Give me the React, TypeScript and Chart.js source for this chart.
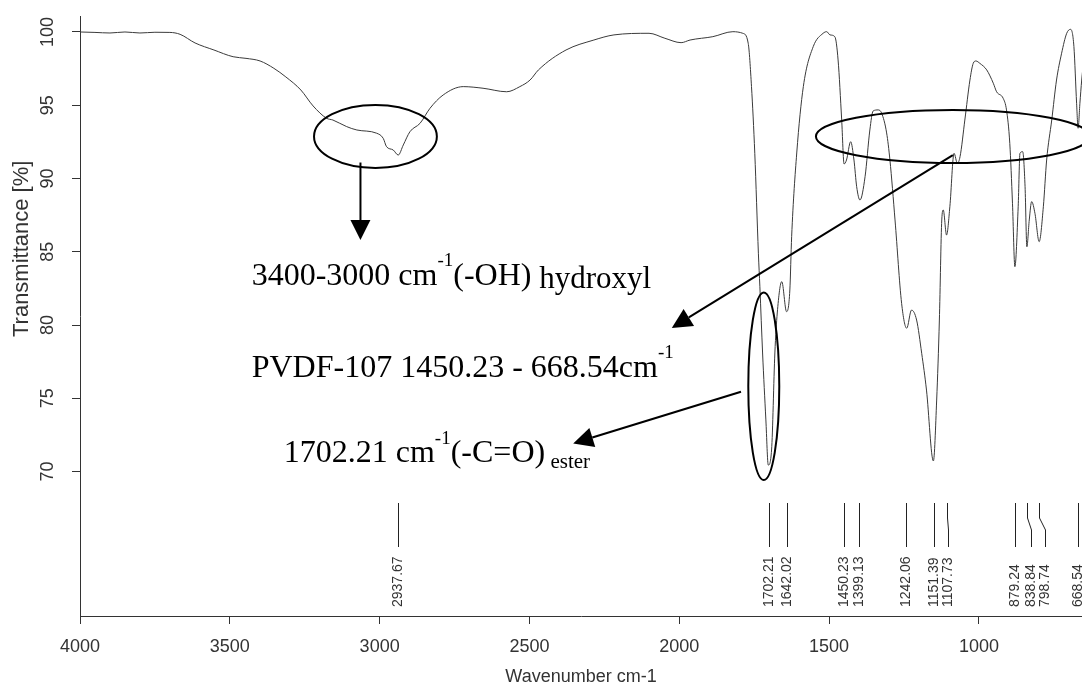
import React, { useEffect, useRef } from "react";
import { Chart, registerables } from "chart.js";

Chart.register(...registerables);

// Spectrum: wavenumber (cm-1) and transmittance (%)
const wavenumbers = [
  4000, 3950, 3900, 3850, 3800, 3750, 3700, 3666, 3616, 3553, 3489, 3446, 3399, 3353, 3313,
  3263, 3222, 3177, 3156, 3110, 3076, 3010, 2988, 2977, 2955, 2938, 2921, 2899, 2865, 2832,
  2788, 2721, 2655, 2576, 2532, 2498, 2470, 2378, 2285, 2218, 2101, 2048, 1994, 1964, 1888,
  1821, 1788, 1770, 1759, 1748, 1736, 1731, 1722, 1711, 1703, 1692, 1681, 1673, 1658, 1642,
  1631, 1625, 1608, 1586, 1553, 1520, 1508, 1497, 1481, 1470, 1458, 1450, 1442, 1428, 1417,
  1408, 1397, 1380, 1364, 1353, 1336, 1325, 1308, 1297, 1280, 1258, 1241, 1225, 1208, 1191,
  1175, 1152, 1141, 1132, 1124, 1119, 1108, 1097, 1083, 1072, 1063, 1047, 1030, 1019, 1010,
  997, 974, 952, 941, 919, 908, 897, 888, 880, 869, 863, 854, 846, 840, 832,
  824, 813, 799, 785, 774, 757, 741, 724, 707, 694, 683, 674, 669, 663, 657, 650,
];
const transmittance = [
  100.0, 99.97, 99.93, 100.0, 99.93, 99.98, 99.97, 99.84, 99.25, 98.77, 98.31, 98.2, 98.02, 97.52, 96.93,
  96.04, 94.95, 94.11, 93.99, 93.54, 93.31, 93.09, 92.74, 92.17, 91.95, 91.6, 92.29, 93.19, 93.77, 94.79,
  95.7, 96.27, 96.16, 95.92, 96.27, 96.72, 97.41, 98.77, 99.45, 99.8, 99.91, 99.57, 99.27, 99.45, 99.68,
  100.02, 99.91, 99.23, 96.27, 91.72, 84.9, 82.61, 78.09, 73.52, 70.44, 71.47, 78.09, 80.82, 82.96, 80.91,
  82.39, 86.03, 91.74, 96.27, 99.0, 99.91, 100.02, 99.8, 99.68, 98.09, 93.99, 90.99, 91.26, 92.51, 91.26,
  89.44, 88.53, 90.12, 93.31, 94.61, 94.68, 94.47, 93.11, 91.26, 87.17, 81.48, 79.78, 81.02, 80.34, 78.07,
  75.56, 70.72, 74.88, 80.34, 87.17, 87.85, 86.14, 88.07, 91.72, 91.04, 91.49, 93.99, 96.72, 97.86, 98.02,
  97.86, 97.41, 96.5, 95.92, 95.47, 94.68, 92.4, 88.31, 83.98, 88.07, 91.72, 91.83, 89.44, 85.34, 87.17,
  88.42, 87.62, 85.69, 88.07, 91.26, 93.99, 96.72, 98.55, 99.91, 100.18, 99.0, 95.13, 93.43, 95.13, 96.72, 98.1,
];

const xTicks = [4000, 3500, 3000, 2500, 2000, 1500, 1000];
const yTicks = [70, 75, 80, 85, 90, 95, 100];

const peakPositions = [2937.67, 1702.21, 1642.02, 1450.23, 1399.13, 1242.06, 1151.39, 1107.73, 879.24, 838.84, 798.74, 668.54];
const peakLabels = ["2937.67", "1702.21", "1642.02", "1450.23", "1399.13", "1242.06", "1151.39", "1107.73", "879.24", "838.84", "798.74", "668.54"];
const peakLabelPositions = [2937.67, 1702.21, 1642.02, 1450.23, 1399.13, 1242.06, 1151.39, 1102.5, 879.24, 827.6, 780.5, 668.54];

const X_MIN = 656;
const X_MAX = 4000;
const Y_MIN = 60.14;
const Y_MAX = 101.09;

const X_TITLE = "Wavenumber cm-1";
const Y_TITLE = "Transmittance [%]";
const Y_TITLE_CENTER = 85.2; // transmittance level at which the y title is centred

const SANS = '"Liberation Sans", Arial, sans-serif';
const SERIF = '"Liberation Serif", "Times New Roman", serif';

type Part = { text: string; size: number; dy: number };

const ohText: Part[] = [
  { text: "3400-3000 cm", size: 32, dy: 0 },
  { text: "-1", size: 19, dy: -19 },
  { text: "(-OH)", size: 32, dy: 0 },
  { text: " hydroxyl", size: 31, dy: 3 },
];
const pvdfText: Part[] = [
  { text: "PVDF-107 1450.23 - 668.54cm", size: 32, dy: 0 },
  { text: "-1", size: 19, dy: -19 },
];
const coText: Part[] = [
  { text: "1702.21 cm", size: 32, dy: 0 },
  { text: "-1", size: 19, dy: -18 },
  { text: "(-C=O)", size: 32, dy: 0 },
  { text: " ester", size: 21, dy: 6 },
];

// Annotation anchors in data units (wavenumber, transmittance)
const ellipses = [
  { cx: 3014, cy: 92.87, rx: 205, ry: 2.15 },
  { cx: 1087, cy: 92.87, rx: 457, ry: 1.81 },
  { cx: 1718, cy: 75.82, rx: 51.7, ry: 6.4 },
];
const arrows = [
  { x1: 3064, y1: 91.09, x2: 3064, y2: 85.8 },
  { x1: 1087, y1: 91.6, x2: 2025, y2: 79.8 },
  { x1: 1794, y1: 75.45, x2: 2354, y2: 71.92 },
];
const texts = [
  { x: 3427, y: 82.73, parts: ohText },
  { x: 3427, y: 76.45, parts: pvdfText },
  { x: 3320, y: 70.67, parts: coText },
];

function drawArrow(ctx: CanvasRenderingContext2D, x1: number, y1: number, x2: number, y2: number) {
  const len = 20;
  const half = 10;
  const a = Math.atan2(y2 - y1, x2 - x1);
  const bx = x2 - len * Math.cos(a);
  const by = y2 - len * Math.sin(a);
  ctx.beginPath();
  ctx.moveTo(x1, y1);
  ctx.lineTo(bx, by);
  ctx.stroke();
  ctx.beginPath();
  ctx.moveTo(x2, y2);
  ctx.lineTo(bx + half * Math.sin(a), by - half * Math.cos(a));
  ctx.lineTo(bx - half * Math.sin(a), by + half * Math.cos(a));
  ctx.closePath();
  ctx.fill();
}

const overlayPlugin = {
  id: "overlay",
  afterDraw(chart: any) {
    const ctx: CanvasRenderingContext2D = chart.ctx;
    const xs = chart.scales.x;
    const ys = chart.scales.y;
    const area = chart.chartArea;
    const px = (w: number) => xs.getPixelForValue(w);
    const py = (t: number) => ys.getPixelForValue(t);

    ctx.save();
    // y tick labels, rotated
    ctx.fillStyle = "#333";
    ctx.font = `18px ${SANS}`;
    ctx.textAlign = "center";
    ctx.textBaseline = "middle";
    yTicks.forEach((v) => {
      ctx.save();
      ctx.translate(area.left - 32, py(v));
      ctx.rotate(-Math.PI / 2);
      ctx.fillText(String(v), 0, 0);
      ctx.restore();
    });

    // y axis title
    ctx.save();
    ctx.font = `22px ${SANS}`;
    ctx.translate(area.left - 58, py(Y_TITLE_CENTER));
    ctx.rotate(-Math.PI / 2);
    ctx.fillText(Y_TITLE, 0, 0);
    ctx.restore();

    // peak markers
    const b = area.bottom;
    ctx.strokeStyle = "#222";
    ctx.lineWidth = 1;
    ctx.font = `14px ${SANS}`;
    ctx.textAlign = "left";
    ctx.textBaseline = "middle";
    peakPositions.forEach((p, i) => {
      const xt = Math.round(px(p)) + 0.5;
      const xb = Math.round(px(peakLabelPositions[i])) + 0.5;
      ctx.beginPath();
      ctx.moveTo(xt, b - 113);
      ctx.lineTo(xt, b - 98);
      ctx.lineTo(xb, b - 86);
      ctx.lineTo(xb, b - 69);
      ctx.stroke();
      ctx.save();
      ctx.translate(xb, b - 9);
      ctx.rotate(-Math.PI / 2);
      ctx.fillText(peakLabels[i], 0, 0);
      ctx.restore();
    });

    // ellipses
    ctx.strokeStyle = "#000";
    ctx.fillStyle = "#000";
    ctx.lineWidth = 2;
    ellipses.forEach((e) => {
      const cx = px(e.cx);
      const cy = py(e.cy);
      const rx = Math.abs(px(e.cx - e.rx) - cx);
      const ry = Math.abs(py(e.cy - e.ry) - cy);
      ctx.beginPath();
      ctx.ellipse(cx, cy, rx, ry, 0, 0, Math.PI * 2);
      ctx.stroke();
    });

    // arrows
    arrows.forEach((a) => drawArrow(ctx, px(a.x1), py(a.y1), px(a.x2), py(a.y2)));

    // annotation texts
    ctx.textAlign = "left";
    ctx.textBaseline = "alphabetic";
    texts.forEach((t) => {
      let x = px(t.x);
      const y = py(t.y);
      t.parts.forEach((p) => {
        ctx.font = `${p.size}px ${SERIF}`;
        ctx.fillText(p.text, x, y + p.dy);
        x += ctx.measureText(p.text).width;
      });
    });
    ctx.restore();
  },
};

export default function App() {
  const ref = useRef<HTMLCanvasElement | null>(null);

  useEffect(() => {
    if (!ref.current) return;
    const points = wavenumbers.map((w, i) => ({ x: w, y: transmittance[i] }));
    const chart = new Chart(ref.current, {
      type: "line",
      data: {
        datasets: [
          {
            data: points,
            borderColor: "#3a3a3a",
            borderWidth: 1,
            pointRadius: 0,
            fill: false,
            cubicInterpolationMode: "monotone",
          },
        ],
      },
      options: {
        responsive: false,
        animation: false,
        events: [],
        layout: { padding: { top: 16, right: 0, left: 0, bottom: 0 } },
        plugins: {
          legend: { display: false },
          tooltip: { enabled: false },
          title: { display: false },
        },
        scales: {
          x: {
            type: "linear",
            reverse: true,
            min: X_MIN,
            max: X_MAX,
            afterBuildTicks: (scale: any) => {
              scale.ticks = xTicks.map((v) => ({ value: v }));
            },
            afterFit: (scale: any) => {
              scale.height = 70;
            },
            grid: {
              display: true,
              drawOnChartArea: false,
              drawTicks: true,
              tickLength: 8,
              color: "#333",
            },
            border: { display: true, color: "#333", width: 1 },
            ticks: {
              color: "#333",
              font: { family: SANS, size: 18 },
              padding: 12,
              maxRotation: 0,
              minRotation: 0,
              autoSkip: false,
              callback: (v: any) => String(v),
            },
            title: {
              display: true,
              text: X_TITLE,
              color: "#333",
              font: { family: SANS, size: 18, lineHeight: 1 },
              padding: { top: 0, bottom: 0 },
            },
          },
          y: {
            type: "linear",
            min: Y_MIN,
            max: Y_MAX,
            afterBuildTicks: (scale: any) => {
              scale.ticks = yTicks.map((v) => ({ value: v }));
            },
            afterFit: (scale: any) => {
              scale.width = 80;
            },
            grid: {
              display: true,
              drawOnChartArea: false,
              drawTicks: true,
              tickLength: 8,
              color: "#333",
            },
            border: { display: true, color: "#333", width: 1 },
            ticks: { display: false },
            title: { display: false },
          },
        },
      },
      plugins: [overlayPlugin],
    });
    return () => chart.destroy();
  }, []);

  return (
    <div style={{ position: "fixed", left: 0, top: 0, width: 1082, height: 686, background: "#fff" }}>
      <canvas ref={ref} width={1082} height={686} style={{ display: "block" }} />
    </div>
  );
}
